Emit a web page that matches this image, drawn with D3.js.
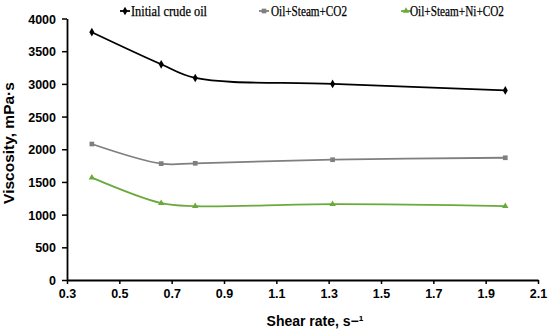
<!DOCTYPE html>
<html>
<head>
<meta charset="utf-8">
<script src="https://cdn.jsdelivr.net/npm/d3@7"></script>
<style>
  html, body { margin: 0; padding: 0; background: #fff; }
  svg { display: block; }
</style>
</head>
<body>
<svg id="chart" width="550" height="331"></svg>
<script>
const shearRates = [0.395, 0.66, 0.79, 1.315, 1.975];
const initialCrude = [3790, 3300, 3090, 3000, 2900];
const oilSteamCO2 = [2080, 1780, 1785, 1840, 1870];
const oilSteamNiCO2 = [1565, 1175, 1130, 1160, 1130];
const seriesNames = ["Initial crude oil", "Oil+Steam+CO2", "Oil+Steam+Ni+CO2"];
const xTicks = [0.3, 0.5, 0.7, 0.9, 1.1, 1.3, 1.5, 1.7, 1.9, 2.1];
const yTicks = [0, 500, 1000, 1500, 2000, 2500, 3000, 3500, 4000];

const svg = d3.select("#chart");
const x = d3.scaleLinear().domain([0.3, 2.1]).range([67, 538]);
const y = d3.scaleLinear().domain([0, 4000]).range([280, 18.5]);

const series = [
  { name: seriesNames[0], values: initialCrude, color: "#000000", marker: d3.symbolDiamond, msize: 22, textLen: 76, lx: 125, tx: 131 },
  { name: seriesNames[1], values: oilSteamCO2, color: "#7f7f7f", marker: d3.symbolSquare, msize: 22, textLen: 76, lx: 264, tx: 271 },
  { name: seriesNames[2], values: oilSteamNiCO2, color: "#6aaa3c", marker: d3.symbolTriangle, msize: 18, textLen: 94, lx: 406, tx: 410 }
];

// Axes
const xAxis = d3.axisBottom(x).tickValues(xTicks).tickFormat(d3.format(".1f")).tickSize(4).tickSizeOuter(0);
const yAxis = d3.axisLeft(y).tickValues(yTicks).tickFormat(d3.format("d")).tickSize(5).tickSizeOuter(0);

const gx = svg.append("g").attr("transform", "translate(0,280)").call(xAxis);
const gy = svg.append("g").attr("transform", "translate(67,0)").call(yAxis);

[gx, gy].forEach(g => {
  g.select(".domain").attr("stroke", "#000").attr("stroke-width", 1.8);
  g.selectAll(".tick line").attr("stroke", "#000").attr("stroke-width", 1.5);
  g.selectAll(".tick text")
    .attr("font-family", "Liberation Sans, Arial, sans-serif")
    .attr("font-weight", "bold")
    .attr("font-size", "12.5px")
    .attr("fill", "#000");
});
gx.selectAll(".tick text").attr("dy", "0").attr("y", 18);
gy.selectAll(".tick text").attr("x", -11).attr("dy", "0.36em");

// Axis titles
svg.append("text")
  .attr("x", 315).attr("y", 326)
  .attr("text-anchor", "middle")
  .attr("font-family", "Liberation Sans, Arial, sans-serif")
  .attr("font-weight", "bold").attr("font-size", "14px")
  .text("Shear rate, s\u2212\u00B9");

svg.append("text")
  .attr("transform", "translate(14,143) rotate(-90)")
  .attr("text-anchor", "middle")
  .attr("font-family", "Liberation Sans, Arial, sans-serif")
  .attr("font-weight", "bold").attr("font-size", "15.5px")
  .text("Viscosity, mPa\u00B7s");

// Lines
const line = d3.line()
  .x((d, i) => x(shearRates[i]))
  .y(d => y(d))
  .curve(d3.curveCatmullRom.alpha(0.5));

series.forEach(s => {
  svg.append("path")
    .attr("d", line(s.values))
    .attr("fill", "none")
    .attr("stroke", s.color)
    .attr("stroke-width", 1.8);
  svg.append("g").selectAll("path")
    .data(s.values)
    .join("path")
    .attr("transform", (d, i) => `translate(${x(shearRates[i])},${y(d)})`)
    .attr("d", d3.symbol().type(s.marker).size(s.msize))
    .attr("fill", s.color);

  // legend
  svg.append("line")
    .attr("x1", s.lx - 5).attr("x2", s.lx + 5)
    .attr("y1", 11).attr("y2", 11)
    .attr("stroke", s.color).attr("stroke-width", 1.8);
  svg.append("path")
    .attr("transform", `translate(${s.lx},11)`)
    .attr("d", d3.symbol().type(s.marker).size(s.msize))
    .attr("fill", s.color);
  svg.append("text")
    .attr("x", s.tx).attr("y", 15.5)
    .attr("font-family", "Liberation Serif, Times New Roman, serif")
    .attr("font-size", "14px")
    .attr("fill", "#000")
    .attr("stroke", "#000").attr("stroke-width", 0.25)
    .attr("textLength", s.textLen)
    .attr("lengthAdjust", "spacingAndGlyphs")
    .text(s.name);
});
</script>
</body>
</html>
